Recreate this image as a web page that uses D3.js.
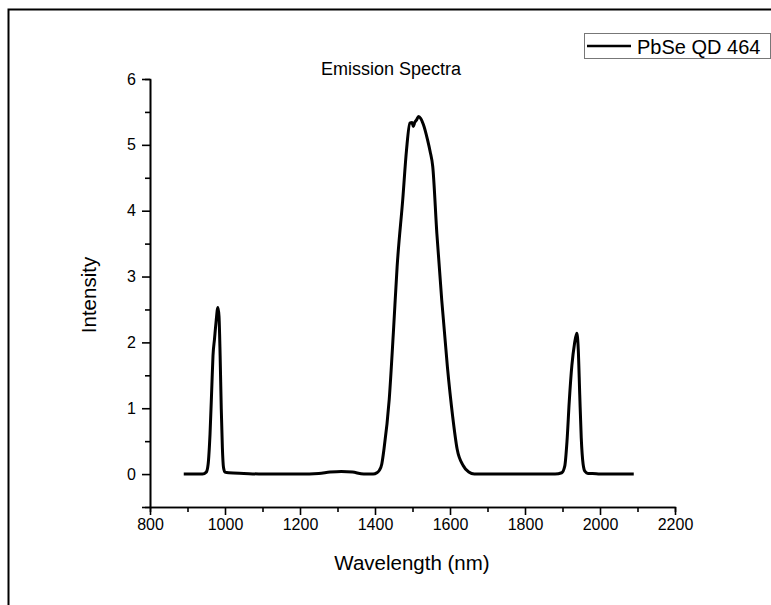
<!DOCTYPE html>
<html>
<head>
<meta charset="utf-8">
<script src="https://cdn.jsdelivr.net/npm/d3@7"></script>
<style>
  body { margin: 0; background: #fff; }
  svg { display: block; font-family: Arial, "Liberation Sans", sans-serif; }
</style>
</head>
<body>
<div class="visHolder"></div>
<script>
// emission spectrum
const wavelength = [890, 940, 950, 955, 960, 965, 968, 972, 976, 981, 984, 987, 990, 993, 996, 1000, 1010, 1050, 1100,
  1200, 1250, 1280, 1310, 1340, 1370, 1395, 1405, 1412, 1418, 1424, 1438, 1449, 1459, 1474, 1484, 1493, 1499, 1502,
  1506, 1511, 1516, 1522, 1529, 1540, 1547, 1554, 1565, 1578, 1593, 1607, 1619, 1635, 1650, 1665, 1700, 1800, 1880,
  1898, 1906, 1912, 1918, 1925, 1932, 1938, 1942, 1946, 1950, 1955, 1960, 1968, 1980, 2000, 2050, 2090];
const intensity = [0, 0, 0.03, 0.15, 0.6, 1.35, 1.8, 2.05, 2.3, 2.53, 2.4, 1.8, 1.0, 0.4, 0.1, 0.03, 0.02, 0.01, 0.0,
  0.0, 0.01, 0.03, 0.04, 0.03, 0.0, 0.0, 0.02, 0.06, 0.15, 0.38, 1.14, 2.15, 3.15, 4.17, 4.92, 5.33, 5.34, 5.28,
  5.34, 5.38, 5.43, 5.40, 5.31, 5.08, 4.9, 4.67, 3.65, 2.64, 1.63, 0.88, 0.38, 0.13, 0.03, 0.0, 0.0, 0.0, 0.0,
  0.02, 0.12, 0.5, 1.1, 1.65, 1.98, 2.14, 1.9, 1.2, 0.55, 0.15, 0.04, 0.01, 0.01, 0.0, 0.0, 0.0];

const xMajor = [800, 1000, 1200, 1400, 1600, 1800, 2000, 2200];
const xMinor = [900, 1100, 1300, 1500, 1700, 1900, 2100];
const yMajor = [0, 1, 2, 3, 4, 5, 6];
const yMinor = [0.5, 1.5, 2.5, 3.5, 4.5, 5.5];

const seriesName = 'PbSe QD 464';

const w = 771, h = 605;
const data = wavelength.map((d, i) => ({x: d, y: intensity[i]}));

const svg = d3.select('.visHolder')
  .append('svg')
  .attr('width', w)
  .attr('height', h);

// outer frame
svg.append('rect')
  .attr('x', 8.5).attr('y', 9.5)
  .attr('width', 800).attr('height', 700)
  .attr('fill', 'none')
  .attr('stroke', '#000')
  .attr('stroke-width', 2);

const xScale = d3.scaleLinear().domain([800, 2200]).range([150, 675]);
const yScale = d3.scaleLinear().domain([-0.5, 6]).range([507, 79]);

const styleAxis = g => {
  g.select('.domain').attr('stroke-width', 1.6);
  g.selectAll('.tick line').attr('stroke-width', 1.6);
  g.selectAll('.tick text').attr('font-size', 16).attr('fill', '#000');
};

// minor ticks first, majors over them
svg.append('g')
  .attr('transform', `translate(0, ${yScale(-0.5)})`)
  .call(d3.axisBottom(xScale).tickValues(xMinor).tickSize(5).tickFormat(''))
  .call(styleAxis);

svg.append('g')
  .attr('id', 'x-axis')
  .attr('transform', `translate(0, ${yScale(-0.5)})`)
  .call(d3.axisBottom(xScale).tickValues(xMajor).tickSize(8).tickSizeOuter(0).tickPadding(4)
    .tickFormat(d3.format('d')))
  .call(styleAxis);

svg.append('g')
  .attr('transform', `translate(${xScale(800)}, 0)`)
  .call(d3.axisLeft(yScale).tickValues(yMinor).tickSize(5).tickFormat(''))
  .call(styleAxis);

svg.append('g')
  .attr('id', 'y-axis')
  .attr('transform', `translate(${xScale(800)}, 0)`)
  .call(d3.axisLeft(yScale).tickValues(yMajor.concat([-0.5])).tickSize(8).tickSizeOuter(0).tickPadding(6)
    .tickFormat(d => d < 0 ? '' : d))
  .call(styleAxis);

// spectrum
svg.append('path')
  .datum(data)
  .attr('fill', 'none')
  .attr('stroke', '#000')
  .attr('stroke-width', 3)
  .attr('stroke-linejoin', 'round')
  .attr('d', d3.line()
    .x(d => xScale(d.x))
    .y(d => yScale(d.y))
    .curve(d3.curveMonotoneX));

// titles
svg.append('text')
  .attr('x', 391).attr('y', 75)
  .attr('text-anchor', 'middle')
  .attr('font-size', 18)
  .text('Emission Spectra');

svg.append('text')
  .attr('x', 412).attr('y', 570)
  .attr('text-anchor', 'middle')
  .attr('font-size', 20.5)
  .text('Wavelength (nm)');

svg.append('text')
  .attr('transform', 'translate(96, 295) rotate(-90)')
  .attr('text-anchor', 'middle')
  .attr('font-size', 20.5)
  .text('Intensity');

// legend
const legend = svg.append('g');
legend.append('rect')
  .attr('x', 584.5).attr('y', 33.5)
  .attr('width', 186).attr('height', 25)
  .attr('fill', '#fff')
  .attr('stroke', '#777')
  .attr('stroke-width', 1);
legend.append('line')
  .attr('x1', 587).attr('x2', 631)
  .attr('y1', 46).attr('y2', 46)
  .attr('stroke', '#000')
  .attr('stroke-width', 2.5);
legend.append('text')
  .attr('x', 637).attr('y', 54)
  .attr('font-size', 20)
  .text(seriesName);
</script>
</body>
</html>
